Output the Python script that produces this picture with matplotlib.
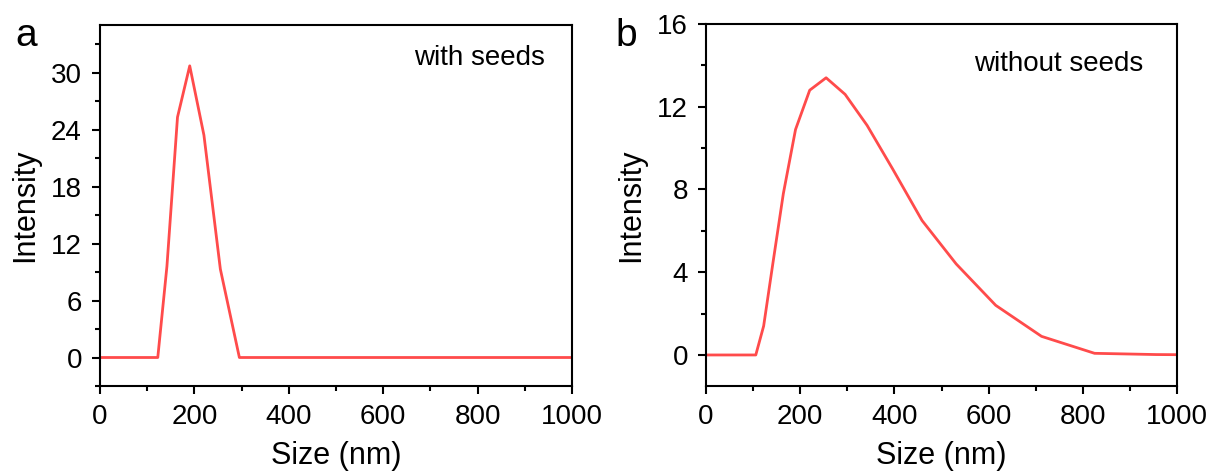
import matplotlib
matplotlib.use("Agg")
import matplotlib.pyplot as plt
from matplotlib.ticker import MultipleLocator

plt.rcParams['font.family'] = ['Liberation Sans', 'DejaVu Sans']

# DLS size bins (nm)
sizes = [0, 91.28, 105.7, 122.4, 141.8, 164.2, 190.1, 220.2, 255.0, 295.3,
         342.0, 396.1, 458.7, 531.2, 615.1, 712.4, 825.0, 955.4, 1106.0]

# intensity, with seeds
with_seeds = [0, 0, 0, 0, 9.6, 25.3, 30.7, 23.4, 9.3, 0,
              0, 0, 0, 0, 0, 0, 0, 0, 0]

# intensity, without seeds
without_seeds = [0, 0, 0, 1.4, 4.4, 7.8, 10.9, 12.8, 13.4, 12.6,
                 11.1, 9.0, 6.5, 4.4, 2.4, 0.9, 0.08, 0.02, 0]

x_ticks = [0, 200, 400, 600, 800, 1000]
LINE_COLOR = '#FF4B4B'


def style_axes(ax, ymin, ymax, ymajor, xlabel_text, ylabel_text):
    ax.set_xlim(0, 1000)
    ax.set_ylim(ymin, ymax)
    ax.set_xticks(x_ticks)
    ax.xaxis.set_minor_locator(MultipleLocator(100))
    ax.yaxis.set_major_locator(MultipleLocator(ymajor))
    ax.yaxis.set_minor_locator(MultipleLocator(ymajor / 2))
    ax.tick_params(which='both', direction='out', top=False, right=False,
                   width=1.5, labelsize=20)
    ax.tick_params(which='major', length=6, pad=7)
    ax.tick_params(which='minor', length=3.5)
    for sp in ax.spines.values():
        sp.set_linewidth(1.5)
    ax.set_xlabel(xlabel_text, fontsize=22, labelpad=8)
    ax.set_ylabel(ylabel_text, fontsize=22, labelpad=8)


def main():
    fig = plt.figure(figsize=(12.12, 4.72), dpi=100)
    ax_a = fig.add_axes([100 / 1212, 1 - 386 / 472, 472 / 1212, 361 / 472])
    ax_b = fig.add_axes([706 / 1212, 1 - 386 / 472, 471 / 1212, 362 / 472])

    ax_a.plot(sizes, with_seeds, color=LINE_COLOR, lw=2)
    style_axes(ax_a, -3, 35, 6, 'Size (nm)', 'Intensity')
    ax_a.text(0.943, 0.909, 'with seeds', transform=ax_a.transAxes,
              ha='right', va='center', fontsize=20)

    ax_b.plot(sizes, without_seeds, color=LINE_COLOR, lw=2)
    style_axes(ax_b, -1.5, 16, 4, 'Size (nm)', 'Intensity')
    ax_b.text(0.928, 0.889, 'without seeds', transform=ax_b.transAxes,
              ha='right', va='center', fontsize=20)

    fig.text(26 / 1212, 1 - 36 / 472, 'a', ha='center', va='center', fontsize=28)
    fig.text(626 / 1212, 1 - 36 / 472, 'b', ha='center', va='center', fontsize=28)

    fig.savefig('out.png', dpi=100)


if __name__ == "__main__":
    main()
